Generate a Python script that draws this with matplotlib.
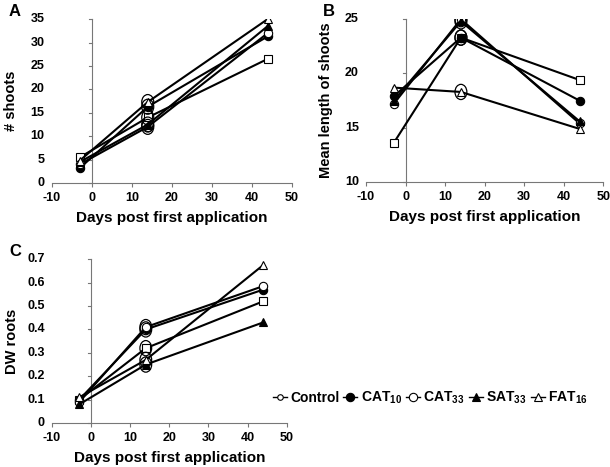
import numpy as np
import matplotlib
matplotlib.use("Agg")
import matplotlib.pyplot as plt
from matplotlib.patches import Ellipse
from matplotlib.lines import Line2D

plt.rcParams['font.family'] = ['Liberation Sans', 'DejaVu Sans']
plt.rcParams['font.weight'] = 'bold'
plt.rcParams['axes.unicode_minus'] = False
plt.rcParams['mathtext.fontset'] = 'custom'
plt.rcParams['mathtext.rm'] = 'Liberation Sans:bold'
plt.rcParams['mathtext.bf'] = 'Liberation Sans:bold'

days = [-3, 14, 44]
series = ["Control", "CAT10", "CAT33", "SAT33", "FAT16"]
labels = ["Control", r"CAT$_{\mathbf{10}}$", r"CAT$_{\mathbf{33}}$",
          r"SAT$_{\mathbf{33}}$", r"FAT$_{\mathbf{16}}$"]
markers = ["s", "o", "o", "^", "^"]
filled = [False, True, False, True, False]

shoots = {
    "Control": [5.5, 14.0, 26.5],
    "CAT10": [3.2, 16.3, 31.3],
    "CAT33": [4.0, 12.0, 32.0],
    "SAT33": [4.5, 12.5, 33.5],
    "FAT16": [4.8, 17.3, 35.0],
}
length = {
    "Control": [13.6, 23.3, 19.4],
    "CAT10": [17.9, 23.3, 17.5],
    "CAT33": [17.2, 25.0, 15.4],
    "SAT33": [17.5, 24.8, 15.6],
    "FAT16": [18.7, 18.3, 14.9],
}
dw = {
    "Control": [0.10, 0.32, 0.52],
    "CAT10": [0.10, 0.40, 0.57],
    "CAT33": [0.09, 0.41, 0.585],
    "SAT33": [0.08, 0.25, 0.43],
    "FAT16": [0.11, 0.27, 0.675],
}

fig = plt.figure(figsize=(6.1, 4.67), dpi=100)
axA = fig.add_axes([0.085, 0.608, 0.393, 0.351])
axB = fig.add_axes([0.600, 0.610, 0.389, 0.349])
axC = fig.add_axes([0.085, 0.094, 0.385, 0.351])

# (axes, data, y limits, y ticks, y label, panel letter, ellipse height at day 14)
panels = [
    (axA, shoots, (0, 35), np.arange(0, 36, 5), "# shoots", "A", 3.2),
    (axB, length, (10, 25), np.arange(10, 26, 5), "Mean length of shoots", "B", 1.4),
    (axC, dw, (0, 0.7), np.arange(0, 0.71, 0.1), "DW roots", "C", 0.065),
]

for ax, data, ylim, yt, ylab, letter, eh in panels:
    for s, m, f in zip(series, markers, filled):
        ax.plot(days, data[s], color='black', lw=1.5, marker=m, ms=6,
                mfc='black' if f else 'white', mec='black', mew=0.8, zorder=3)
        ax.add_patch(Ellipse((days[1], data[s][1]), 3.0, eh, fill=False,
                             ec='black', lw=0.9, zorder=4))
    ax.set_xlim(-10, 50)
    ax.set_ylim(*ylim)
    ax.set_xticks(np.arange(-10, 51, 10))
    ax.spines['left'].set_position(('data', 0))
    ax.spines['right'].set_visible(False)
    ax.spines['top'].set_visible(False)
    for sp in ['left', 'bottom']:
        ax.spines[sp].set_color('#777777')
        ax.spines[sp].set_linewidth(0.8)
    ax.tick_params(axis='x', colors='#777777', labelcolor='black', labelsize=9,
                   length=3, width=0.8)
    ax.set_xlabel("Days post first application", fontsize=11, fontweight='bold', labelpad=5)
    ax.set_ylabel(ylab, fontsize=10.5, fontweight='bold')
    ax.yaxis.set_label_coords(-0.14, 0.5)
    ax.text(-0.18, 1.0, letter, transform=ax.transAxes, fontsize=12, fontweight='bold',
            va='bottom', ha='left')
    # y tick labels sit at the left of the plot area, ticks on the spine at x=0
    ax.set_yticks([])
    for v in yt:
        lbl = ("0" if v == 0 else "%.1f" % v) if letter == "C" else "%g" % v
        ax.text(-0.03, (v - ylim[0]) / (ylim[1] - ylim[0]), lbl, transform=ax.transAxes,
                ha='right', va='center', fontsize=9, fontweight='bold')
        ax.plot([0, -0.7], [v, v], color='#777777', lw=0.8, clip_on=False)

handles = [Line2D([], [], color='black', lw=1.0, marker=('o' if m == 's' else m),
                  ms=(4 if m == 's' else 6), mfc='black' if f else 'white', mec='black', mew=0.8)
           for m, f in zip(markers, filled)]
fig.legend(handles, labels, loc='center right', bbox_to_anchor=(0.975, 0.148), ncol=5,
           frameon=False, handlelength=1.0, handletextpad=0.25, columnspacing=0.3,
           borderpad=0, prop={'weight': 'bold', 'size': 10})

fig.savefig("out.png", dpi=100)
